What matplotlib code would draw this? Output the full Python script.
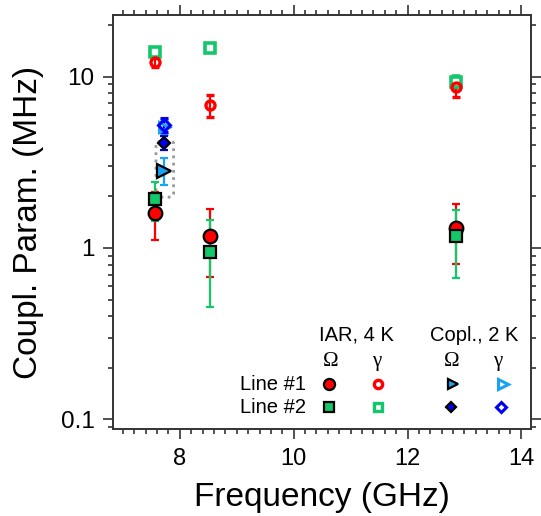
import matplotlib
matplotlib.use("Agg")
import matplotlib.pyplot as plt
from matplotlib.patches import FancyBboxPatch
from matplotlib.ticker import MultipleLocator, FixedLocator, NullFormatter, LogLocator
import numpy as np

plt.rcParams['font.family'] = ['Liberation Sans', 'DejaVu Sans']

# ---- data (GHz, MHz) ----
freq_iar = [7.57, 8.53, 12.85]
iar_omega_l1 = [1.61, 1.18, 1.31]
iar_omega_l1_err = [0.5, 0.5, 0.5]
iar_omega_l2 = [1.93, 0.95, 1.17]
iar_omega_l2_err = [0.49, 0.5, 0.5]
iar_gamma_l1 = [12.1, 6.8, 8.74]
iar_gamma_l1_err = [0.7, 1.0, 1.1]
iar_gamma_l2 = [13.9, 14.6, 9.35]
iar_gamma_l2_err = [0.5, 0.6, 0.8]

freq_copl = [7.72]
copl_omega_l1 = [2.83]
copl_omega_l1_err = [0.5]
copl_omega_l2 = [4.12]
copl_omega_l2_err = [0.4]
copl_gamma_l1 = [5.1]
copl_gamma_l1_err = [0.5]
copl_gamma_l2 = [5.23]
copl_gamma_l2_err = [0.5]

RED = '#FF0000'
GREEN = '#12C86A'
LBLUE = '#1AA3F5'
BLUE = '#0000F0'

fig = plt.figure(figsize=(5.41, 5.16), dpi=100)
ax = fig.add_axes([0.2094, 0.1686, 0.9815 - 0.2094, 0.9703 - 0.1686])
ax.set_yscale('log')
ax.set_xlim(6.83, 14.17)
ax.set_ylim(0.0878, 22.8)

ekw = dict(linestyle='none', elinewidth=1.6, capsize=3, capthick=1.6, zorder=3)

# IAR gamma (open)
ax.errorbar(freq_iar, iar_gamma_l2, yerr=iar_gamma_l2_err, fmt='s', ms=7,
            mfc='white', mec=GREEN, mew=2.6, ecolor=GREEN, **ekw)
ax.errorbar(freq_iar, iar_gamma_l1, yerr=iar_gamma_l1_err, fmt='o', ms=6.5,
            mfc='none', mec=RED, mew=2.4, ecolor=RED, **ekw)
# IAR omega (filled)
ax.errorbar(freq_iar, iar_omega_l1, yerr=iar_omega_l1_err, fmt='o', ms=9.8,
            mfc=RED, mec='black', mew=1.6, ecolor=RED, **ekw)
ax.errorbar(freq_iar, iar_omega_l2, yerr=iar_omega_l2_err, fmt='s', ms=8.2,
            mfc=GREEN, mec='black', mew=1.6, ecolor=GREEN, **ekw)
# Copl gamma (open)
ax.errorbar(freq_copl, copl_gamma_l1, yerr=copl_gamma_l1_err, fmt='>', ms=7.5,
            mfc='none', mec=LBLUE, mew=2.2, ecolor=LBLUE, **ekw)
ax.errorbar(freq_copl, copl_gamma_l2, yerr=copl_gamma_l2_err, fmt='D', ms=6,
            mfc='none', mec=BLUE, mew=2.2, ecolor=BLUE, **ekw)
# Copl omega (filled)
ax.errorbar(freq_copl, copl_omega_l1, yerr=copl_omega_l1_err, fmt='>', ms=9.5,
            mfc=LBLUE, mec='black', mew=1.6, ecolor=LBLUE, **ekw)
ax.errorbar(freq_copl, copl_omega_l2, yerr=copl_omega_l2_err, fmt='D', ms=5.8,
            mfc=BLUE, mec='black', mew=1.6, ecolor=BLUE, **ekw)

# dotted rounded box around coplanar omega points
box = FancyBboxPatch((7.58, 1.98), 0.31, 2.2, boxstyle='round,pad=0,rounding_size=0.08',
                     transform=ax.transData, fill=False, ec='#999999', lw=2.0,
                     ls=(0, (1, 1.6)), zorder=2, mutation_aspect=1)
ax.add_patch(box)

# ticks
ax.xaxis.set_major_locator(FixedLocator([8, 10, 12, 14]))
ax.xaxis.set_minor_locator(MultipleLocator(0.2))
ax.yaxis.set_major_locator(FixedLocator([0.1, 1, 10]))
ax.yaxis.set_minor_locator(LogLocator(base=10, subs=np.arange(2, 10)))
ax.yaxis.set_minor_formatter(NullFormatter())
ax.set_yticklabels(['0.1', '1', '10'])
ax.tick_params(which='both', direction='out', top=True, right=True, width=1.2, color='#333333')
ax.tick_params(which='major', length=7)
ax.tick_params(which='minor', length=3.8)
ax.tick_params(axis='x', which='major', labelsize=17, pad=7)
ax.tick_params(axis='y', which='major', labelsize=17.5, pad=6.5)
for s in ax.spines.values():
    s.set_linewidth(1.4)
    s.set_color('#333333')

ax.set_xlabel('Frequency (GHz)', fontsize=24, labelpad=8)
ax.set_ylabel('Coupl. Param. (MHz)', fontsize=24, labelpad=12)

# custom legend built in axes-fraction coordinates
def fx(px):
    return (px - 113.3) / (531 - 113.3)
def fy(py):
    return (429 - py) / (429 - 15.3)

tr = ax.transAxes
ax.text(fx(356), fy(335), 'IAR, 4 K', transform=tr, ha='center', va='center', fontsize=14.5)
ax.text(fx(474), fy(335), 'Copl., 2 K', transform=tr, ha='center', va='center', fontsize=14.5)
for xp, sym in [(331, 'Ω'), (377, 'γ'), (452, 'Ω'), (498, 'γ')]:
    ax.text(fx(xp), fy(361), sym, transform=tr, ha='center', va='center',
            fontsize=15, family='Liberation Serif')
ax.text(fx(306), fy(384), 'Line #1', transform=tr, ha='right', va='center', fontsize=14.5)
ax.text(fx(306), fy(407), 'Line #2', transform=tr, ha='right', va='center', fontsize=14.5)

leg_markers = [
    (329, 384, 'o', 8, RED, 'black', 1.6),
    (378, 384, 'o', 6, 'white', RED, 2.4),
    (453, 384, '>', 7.5, LBLUE, 'black', 1.6),
    (503, 384, '>', 6.5, 'white', LBLUE, 2.2),
    (329, 407, 's', 7, GREEN, 'black', 1.6),
    (378, 407, 's', 6, 'white', GREEN, 2.4),
    (451, 407, 'D', 5.3, BLUE, 'black', 1.6),
    (501, 407, 'D', 5, 'white', BLUE, 2.2),
]
for xp, yp, m, ms, fc, ec, mew in leg_markers:
    ax.plot([fx(xp)], [fy(yp)], marker=m, ms=ms, mfc=fc, mec=ec, mew=mew,
            transform=tr, linestyle='none', clip_on=False, zorder=5)

fig.savefig('out.png', dpi=100)
